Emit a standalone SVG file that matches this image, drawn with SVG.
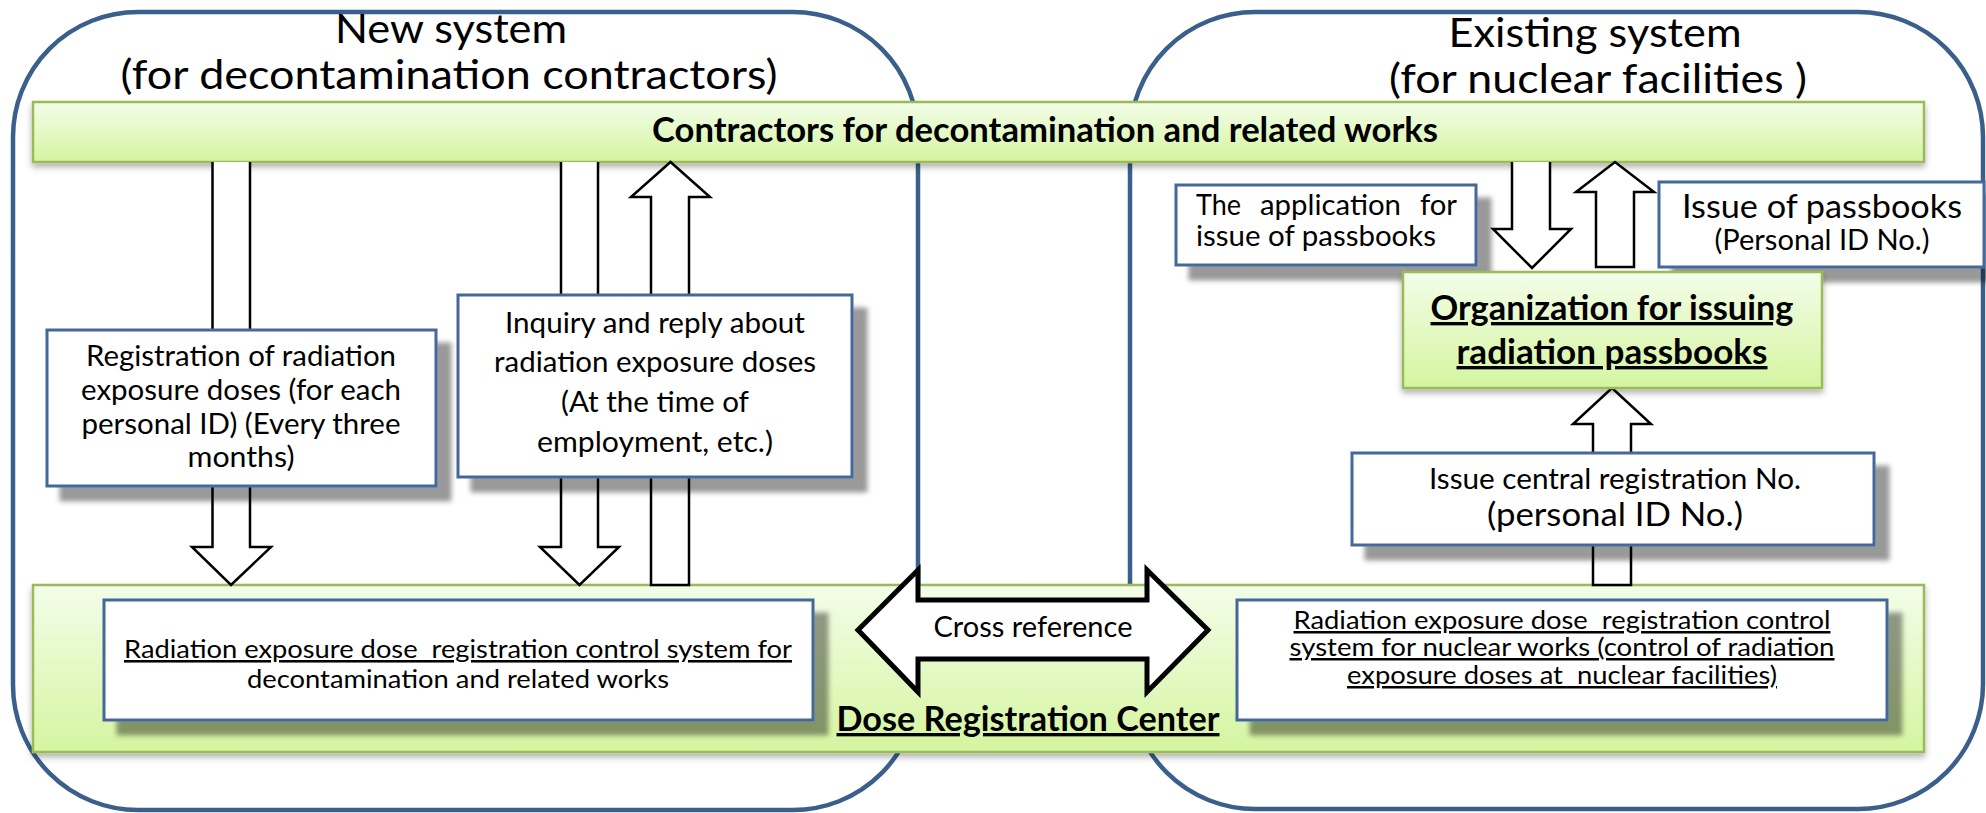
<svg xmlns="http://www.w3.org/2000/svg" width="1986" height="813" viewBox="0 0 1986 813">
<defs>
<linearGradient id="green" x1="0" y1="0" x2="0" y2="1">
<stop offset="0" stop-color="#f3fde9"/>
<stop offset="1" stop-color="#d5f5a0"/>
</linearGradient>
<filter id="boxShadow" x="-10%" y="-10%" width="130%" height="140%">
<feDropShadow dx="14" dy="14" stdDeviation="2.5" flood-color="#000" flood-opacity="0.4"/>
</filter>
<filter id="barShadow" x="-5%" y="-20%" width="110%" height="150%">
<feDropShadow dx="0" dy="4" stdDeviation="3" flood-color="#000" flood-opacity="0.3"/>
</filter>
<style>
.outer{fill:#fff;stroke:#3a5f8b;stroke-width:4.5}
.bar{fill:url(#green);stroke:#9bbb59;stroke-width:2.5;filter:url(#barShadow)}
.box{fill:#fff;stroke:#45679a;stroke-width:3;filter:url(#boxShadow)}
.arrow{fill:#fff;stroke:#000;stroke-width:2.5;stroke-linejoin:miter}
.xarrow{fill:#fff;stroke:#000;stroke-width:5;stroke-linejoin:miter}
text{font-family:Lato,"Open Sans","Liberation Sans",sans-serif;fill:#000;text-anchor:middle}
.b{font-weight:bold}
.u{text-decoration:underline}
.st{text-anchor:start}
.en{text-anchor:end}
</style>
</defs>

<g id="new-system">
<rect class="outer" x="13" y="12" width="905" height="798" rx="125" ry="125"/>
<text x="451" y="43" font-size="41" textLength="232" lengthAdjust="spacingAndGlyphs">New system</text>
<text x="449" y="89" font-size="41" textLength="657" lengthAdjust="spacingAndGlyphs">(for decontamination contractors)</text>
</g>

<g id="existing-system">
<rect class="outer" x="1130" y="12" width="853" height="797" rx="125" ry="125"/>
<text x="1595" y="47" font-size="41" textLength="293" lengthAdjust="spacingAndGlyphs">Existing system</text>
<text x="1598" y="93" font-size="41" textLength="418" lengthAdjust="spacingAndGlyphs">(for nuclear facilities )</text>
</g>

<g id="contractors">
<rect class="bar" x="33" y="102" width="1891" height="60"/>
<text class="b" x="1045" y="142" font-size="33.5" textLength="786" lengthAdjust="spacingAndGlyphs">Contractors for decontamination and related works</text>
</g>

<g id="dose-registration-center">
<rect class="bar" x="33" y="585" width="1891" height="167"/>
<text class="b u" x="1028" y="731" font-size="33.5" textLength="383" lengthAdjust="spacingAndGlyphs">Dose Registration Center</text>
</g>

<g id="connectors">
<path class="arrow" d="M212.5,162 V547 H192 L231,585 L271,547 H250 V162"/>
<path class="arrow" d="M561,162 V547 H540 L579.5,585 L619,547 H598 V162"/>
<path class="arrow" d="M651,585 V197 H631 L670.5,162 L710,197 H689 V585 Z"/>
<path class="arrow" d="M1512,162 V229 H1493 L1532,268 L1571,229 H1550 V162"/>
<path class="arrow" d="M1596,267 V192 H1576 L1615,162 L1654,192 H1634 V267 Z"/>
<path class="arrow" d="M1593,585 V424 H1573 L1612,388 L1651,424 H1631 V585 Z"/>
<path class="xarrow" d="M858,630 L918,570 V600 H1147 V570 L1208,630 L1147,692 V659 H918 V692 Z"/>
<text x="1033" y="637" font-size="28.5" textLength="199" lengthAdjust="spacingAndGlyphs">Cross reference</text>
</g>

<g id="registration">
<rect class="box" x="47" y="330" width="389" height="156"/>
<text x="241" y="366" font-size="28.7" textLength="310" lengthAdjust="spacingAndGlyphs">Registration of radiation</text>
<text x="241" y="400" font-size="28.7" textLength="320" lengthAdjust="spacingAndGlyphs">exposure doses (for each</text>
<text x="241" y="434" font-size="28.7" textLength="319" lengthAdjust="spacingAndGlyphs">personal ID) (Every three</text>
<text x="241" y="467" font-size="28.7" textLength="107" lengthAdjust="spacingAndGlyphs">months)</text>
</g>

<g id="inquiry">
<rect class="box" x="458" y="295" width="394" height="182"/>
<text x="655" y="333" font-size="28.7" textLength="300" lengthAdjust="spacingAndGlyphs">Inquiry and reply about</text>
<text x="655" y="372" font-size="28.7" textLength="322" lengthAdjust="spacingAndGlyphs">radiation exposure doses</text>
<text x="655" y="412" font-size="28.7" textLength="188" lengthAdjust="spacingAndGlyphs">(At the time of</text>
<text x="655" y="452" font-size="28.7" textLength="236" lengthAdjust="spacingAndGlyphs">employment, etc.)</text>
</g>

<g id="application">
<rect class="box" x="1176" y="185" width="300" height="80"/>
<text class="st" x="1196" y="215" font-size="28.7" textLength="45" lengthAdjust="spacingAndGlyphs">The</text>
<text class="st" x="1260" y="215" font-size="28.7" textLength="141" lengthAdjust="spacingAndGlyphs">application</text>
<text class="en" x="1457" y="215" font-size="28.7" textLength="37" lengthAdjust="spacingAndGlyphs">for</text>
<text class="st" x="1196" y="246" font-size="28.7" textLength="240" lengthAdjust="spacingAndGlyphs">issue of passbooks</text>
</g>

<g id="issue-passbooks">
<rect class="box" x="1659" y="182" width="325" height="85"/>
<text x="1822" y="218" font-size="33.5" textLength="280" lengthAdjust="spacingAndGlyphs">Issue of passbooks</text>
<text x="1822" y="250" font-size="28.5" textLength="215" lengthAdjust="spacingAndGlyphs">(Personal ID No.)</text>
</g>

<g id="organization">
<rect class="bar" x="1403" y="272" width="419" height="116"/>
<text class="b u" x="1612" y="320" font-size="33.5" textLength="363" lengthAdjust="spacingAndGlyphs">Organization for issuing</text>
<text class="b u" x="1612" y="364" font-size="33.5" textLength="311" lengthAdjust="spacingAndGlyphs">radiation passbooks</text>
</g>

<g id="central-registration">
<rect class="box" x="1352" y="453" width="522" height="92"/>
<text x="1615" y="489" font-size="28" textLength="372" lengthAdjust="spacingAndGlyphs">Issue central registration No.</text>
<text x="1615" y="526" font-size="32" textLength="256" lengthAdjust="spacingAndGlyphs">(personal ID No.)</text>
</g>

<g id="decontamination-system">
<rect class="box" x="104" y="600" width="709" height="120"/>
<text class="u" x="458" y="658" font-size="25.5" textLength="668" lengthAdjust="spacingAndGlyphs" xml:space="preserve">Radiation exposure dose  registration control system for</text>
<text x="458" y="688" font-size="25.5" textLength="422" lengthAdjust="spacingAndGlyphs">decontamination and related works</text>
</g>

<g id="nuclear-system">
<rect class="box" x="1237" y="600" width="650" height="120"/>
<text class="u" x="1562" y="629" font-size="25" textLength="537" lengthAdjust="spacingAndGlyphs" xml:space="preserve">Radiation exposure dose  registration control</text>
<text class="u" x="1562" y="656" font-size="25" textLength="545" lengthAdjust="spacingAndGlyphs">system for nuclear works (control of radiation</text>
<text class="u" x="1562" y="684" font-size="25" textLength="430" lengthAdjust="spacingAndGlyphs" xml:space="preserve">exposure doses at  nuclear facilities)</text>
</g>
</svg>
